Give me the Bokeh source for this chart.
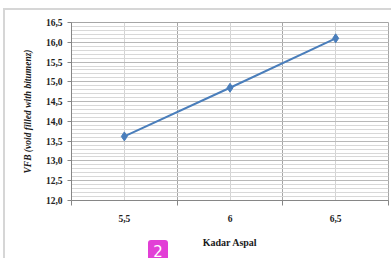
from bokeh.plotting import figure
from bokeh.models import Range1d, FixedTicker, CustomJSTickFormatter, ColumnDataSource, InlineStyleSheet
from bokeh.embed import file_html
from bokeh.resources import INLINE

categories = ["5,5", "6", "6,5"]
vfb = [13.62, 14.85, 16.10]
y_ticks = [12.0, 12.5, 13.0, 13.5, 14.0, 14.5, 15.0, 15.5, 16.0, 16.5]
y_minor = [round(12.0 + 0.1 * i, 1) for i in range(46)]
badge_text = "2"

xs = [i + 0.5 for i in range(len(categories))]
src = ColumnDataSource(dict(x=xs, y=vfb))

p = figure(width=391, height=258, output_backend="svg", toolbar_location=None,
           x_range=Range1d(0, len(categories)), y_range=Range1d(12.0, 16.5),
           min_border_left=71, min_border_right=3, min_border_top=22, min_border_bottom=58)
p.outline_line_color = "#a6a6a6"
p.background_fill_color = "white"
p.border_fill_color = None
p.styles = {
    "background": "linear-gradient(#d6d6d6,#d6d6d6) 4px 8px / 100% 2px no-repeat, "
                  "linear-gradient(#d6d6d6,#d6d6d6) 3px 8px / 2px 100% no-repeat, white"
}
p.stylesheets = [InlineStyleSheet(css=(
    ":host::after { content: '%s'; position: absolute; left: 148px; top: 240px; "
    "width: 20px; height: 22px; background: #e23fd6; color: white; border-radius: 3px; "
    "font: 15px 'DejaVu Sans', sans-serif; text-align: center; line-height: 24px; z-index: 10; }"
) % badge_text)]

# x axis
p.xaxis.ticker = FixedTicker(ticks=xs, minor_ticks=list(range(len(categories) + 1)))
p.xaxis.major_label_overrides = {x: c for x, c in zip(xs, categories)}
p.xaxis.major_tick_out = 0
p.xaxis.major_tick_in = 0
p.xaxis.minor_tick_out = 5
p.xaxis.minor_tick_in = 0
p.xaxis.minor_tick_line_color = "#868686"
p.xaxis.axis_line_color = "#868686"
p.xaxis.major_label_standoff = 9
p.xaxis.major_label_text_font = "Liberation Serif"
p.xaxis.major_label_text_font_style = "bold"
p.xaxis.major_label_text_font_size = "9.5px"
p.xaxis.major_label_text_color = "#222222"
p.xaxis.axis_label = "Kadar Aspal"
p.xaxis.axis_label_text_font = "Liberation Serif"
p.xaxis.axis_label_text_font_style = "bold"
p.xaxis.axis_label_text_font_size = "10px"
p.xaxis.axis_label_text_color = "#1a1a1a"
p.xaxis.axis_label_standoff = 12

# y axis
p.yaxis.ticker = FixedTicker(ticks=y_ticks, minor_ticks=y_minor)
p.yaxis.formatter = CustomJSTickFormatter(code="return tick.toFixed(1).replace('.', ',');")
p.yaxis.major_tick_out = 4
p.yaxis.major_tick_in = 0
p.yaxis.minor_tick_out = 0
p.yaxis.minor_tick_in = 0
p.yaxis.major_tick_line_color = "#868686"
p.yaxis.axis_line_color = "#868686"
p.yaxis.major_label_standoff = 5
p.yaxis.major_label_text_font = "Liberation Serif"
p.yaxis.major_label_text_font_style = "bold"
p.yaxis.major_label_text_font_size = "9.5px"
p.yaxis.major_label_text_color = "#222222"
p.yaxis.axis_label = "VFB (void filled with bitumenz)"
p.yaxis.axis_label_text_font = "Liberation Serif"
p.yaxis.axis_label_text_font_style = "bold italic"
p.yaxis.axis_label_text_font_size = "9.5px"
p.yaxis.axis_label_text_color = "#1a1a1a"
p.yaxis.axis_label_standoff = 10

# grids
p.xgrid.grid_line_color = "#d4d4d4"
p.xgrid.minor_grid_line_color = "#a6a6a6"
p.ygrid.grid_line_color = "#b8b8b8"
p.ygrid.minor_grid_line_color = "#d8d8d8"

p.line("x", "y", source=src, line_color="#4a7ebb", line_width=2)
p.scatter("x", "y", source=src, marker="diamond", size=9, fill_color="#4a7ebb", line_color="#4a7ebb")

open("out.html", "w").write(file_html(p, INLINE))
